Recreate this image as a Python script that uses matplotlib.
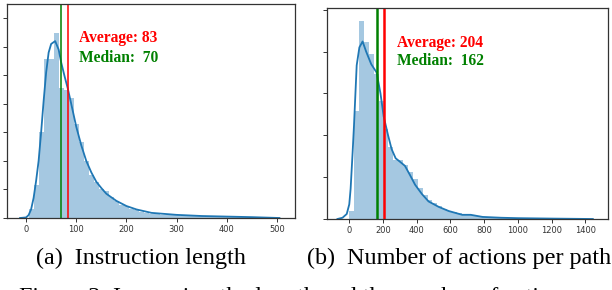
import numpy as np
import matplotlib
matplotlib.use("Agg")
import matplotlib.pyplot as plt
import matplotlib.transforms as mtransforms

# ---------------- data ----------------
# (a) instruction length
len_bin_start = 6
len_bin_width = 10
len_heights = [0.30, 1.17, 3.00, 5.57, 5.57, 6.48, 4.55, 4.50, 4.20, 3.30,
               2.65, 2.00, 1.50, 1.26, 1.00, 0.95, 0.72, 0.60, 0.46, 0.42,
               0.32, 0.27, 0.22, 0.18, 0.15, 0.13, 0.12, 0.11, 0.10, 0.09,
               0.08, 0.07, 0.07, 0.06, 0.06, 0.05, 0.05, 0.04, 0.04, 0.04,
               0.03, 0.03, 0.03, 0.02, 0.02, 0.02, 0.02, 0.01, 0.01]
len_kde_x = [-12, 0, 5, 10, 15, 20, 25, 30, 35, 40, 45, 50, 58, 65, 70, 77, 83,
             90, 100, 110, 120, 130, 140, 150, 160, 180, 200, 220, 250, 300,
             350, 400, 450, 505]
len_kde_y = [0.0, 0.02, 0.10, 0.30, 0.70, 1.30, 2.00, 3.00, 4.10, 5.10, 5.80,
             6.10, 6.20, 5.90, 5.45, 4.95, 4.55, 4.00, 3.20, 2.55, 2.00, 1.60,
             1.27, 1.05, 0.85, 0.60, 0.42, 0.30, 0.18, 0.11, 0.07, 0.05, 0.03, 0.0]
len_average = 83
len_median = 70

# (b) number of actions per path
act_bin_start = 0
act_bin_width = 29
act_heights = [0.20, 2.57, 4.72, 4.22, 3.95, 3.47, 2.83, 2.15, 1.72, 1.42,
               1.40, 1.28, 1.12, 0.95, 0.74, 0.58, 0.46, 0.38, 0.31, 0.25,
               0.20, 0.17, 0.14, 0.11, 0.10, 0.09, 0.07, 0.05, 0.04, 0.04,
               0.03, 0.03, 0.02, 0.02, 0.02, 0.015, 0.01, 0.01, 0.01, 0.008,
               0.006, 0.005, 0.005, 0.004, 0.003, 0.003, 0.002, 0.002, 0.001, 0.001]
act_kde_x = [-70, -40, -15, 0, 8, 20, 28, 44, 60, 79, 100, 130, 162, 185, 204,
             230, 251, 275, 300, 330, 360, 390, 430, 470, 530, 590, 670, 720,
             790, 900, 1000, 1200, 1444]
act_kde_y = [0.0, 0.03, 0.12, 0.35, 0.72, 1.60, 2.23, 3.67, 4.10, 4.24, 4.00,
             3.70, 3.50, 3.00, 2.45, 2.00, 1.67, 1.45, 1.37, 1.27, 1.05, 0.82,
             0.60, 0.42, 0.29, 0.19, 0.10, 0.10, 0.05, 0.03, 0.02, 0.01, 0.0]
act_average = 204
act_median = 162

len_xticks = [0, 100, 200, 300, 400, 500]
act_xticks = [0, 200, 400, 600, 800, 1000, 1200, 1400]
len_yticks = [0, 1, 2, 3, 4, 5, 6, 7]
act_yticks = [0, 1, 2, 3, 4, 5]

captions = ["(a)  Instruction length", "(b)  Number of actions per path"]
fig_caption = "Figure 3: Increasing the length and the number of actions"

# ---------------- style ----------------
HIST_COLOR = "#1f77b4"
SERIF = ["Liberation Serif", "DejaVu Serif"]

fig = plt.figure(figsize=(6.12, 2.90), dpi=100)

ax1 = fig.add_axes([7 / 612, 1 - 218 / 290, 288 / 612, 214 / 290])
ax2 = fig.add_axes([327 / 612, 1 - 219 / 290, 281 / 612, 211 / 290])


def draw(ax, start, width, heights, kx, ky, avg, med, lw_lines, xticks, yticks,
         xlim, ylim, text_x, y_avg, y_med):
    n = len(heights)
    lefts = start + width * np.arange(n)
    ax.bar(lefts, heights, width=width, align="edge", color=HIST_COLOR,
           alpha=0.4, linewidth=0)
    ax.plot(kx, ky, color=HIST_COLOR, lw=1.3)
    ax.axvline(med, color="green", lw=lw_lines)
    ax.axvline(avg, color="red", lw=lw_lines)
    ax.set_xlim(*xlim)
    ax.set_ylim(*ylim)
    ax.set_xticks(xticks)
    ax.set_yticks(yticks)
    ax.set_yticklabels([])
    ax.tick_params(axis="x", labelsize=6, length=3, width=0.7, pad=2,
                   colors="#333333")
    ax.tick_params(axis="y", length=3, width=0.7, colors="#333333")
    for sp in ax.spines.values():
        sp.set_color("#333333")
        sp.set_linewidth(0.9)
    tr = mtransforms.blended_transform_factory(ax.transData, ax.transAxes)
    ax.text(text_x, y_avg, f"Average: {avg}", color="red", fontsize=11.2,
            fontweight="bold", family=SERIF, transform=tr, va="baseline")
    ax.text(text_x, y_med, f"Median:  {med}", color="green", fontsize=11.2,
            fontweight="bold", family=SERIF, transform=tr, va="baseline")


draw(ax1, len_bin_start, len_bin_width, len_heights, len_kde_x, len_kde_y,
     len_average, len_median, 1.1, len_xticks, len_yticks, (-38, 536),
     (0, 7.5), 105.7, 0.822, 0.729)
draw(ax2, act_bin_start, act_bin_width, act_heights, act_kde_x, act_kde_y,
     act_average, act_median, 1.8, act_xticks, act_yticks, (-132, 1534),
     (0, 5.04), 281, 0.817, 0.730)

fig.text(36 / 612, 1 - 264 / 290, captions[0], fontsize=17.4, family=SERIF,
         va="baseline", ha="left")
fig.text(307 / 612, 1 - 264 / 290, captions[1], fontsize=17.4, family=SERIF,
         va="baseline", ha="left")
fig.text(19 / 612, 1 - 303 / 290, fig_caption, fontsize=17.4, family=SERIF,
         va="baseline", ha="left")

fig.savefig("out.png", dpi=100)
